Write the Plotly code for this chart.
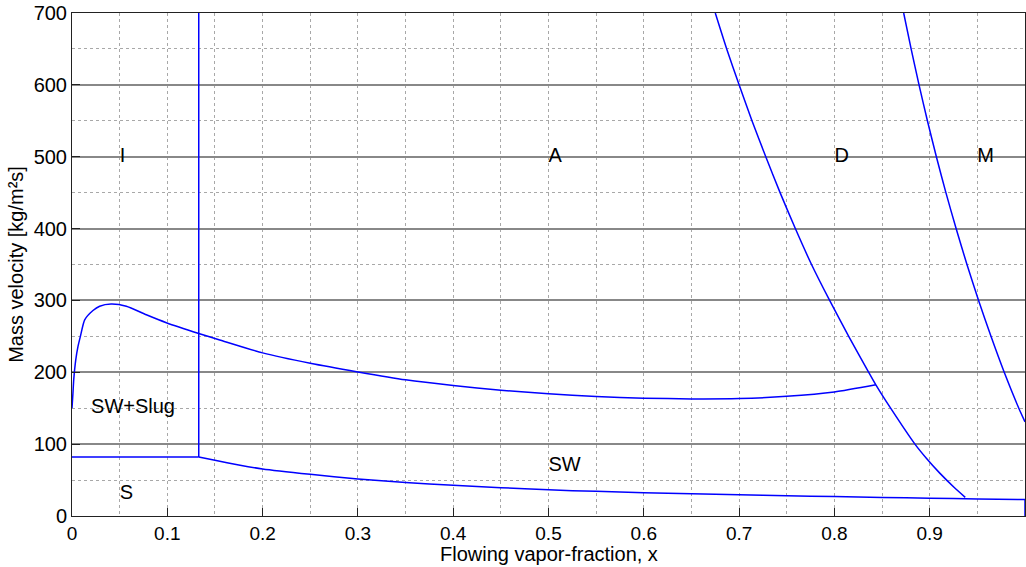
import plotly.graph_objects as go

# ---- data ----
# vertical boundary I / A
vert_x = [0.133, 0.133]
vert_y = [82, 700]

# stratified / stratified-wavy boundary (horizontal part, curve, end drop)
s_flat_x = [0.0, 0.133]
s_flat_y = [82, 82]
s_curve_x = [0.133, 0.15, 0.175, 0.2, 0.25, 0.3, 0.35, 0.4, 0.45, 0.5, 0.55, 0.6,
             0.65, 0.7, 0.75, 0.8, 0.85, 0.9, 0.95, 1.0]
s_curve_y = [82, 77.5, 71, 65.5, 58, 51.5, 46.6, 42.8, 39.4, 36.4, 34.3, 32.5,
             30.9, 29.5, 28.2, 27.0, 25.9, 24.8, 23.8, 22.8]
s_end_x = [1.0, 1.0]
s_end_y = [22.8, 0]

# wavy / slug+SW / annular boundary
w_x = [0.0, 0.001, 0.0018, 0.0039, 0.0063, 0.0088, 0.0133, 0.022, 0.029, 0.041,
       0.057, 0.078, 0.099, 0.133, 0.155, 0.2, 0.25, 0.3, 0.35, 0.4, 0.45, 0.5,
       0.55, 0.6, 0.65, 0.7, 0.75, 0.8, 0.8435]
w_y = [150, 171, 189.5, 217, 236, 250, 273, 286, 292, 295,
       292, 280, 269, 254, 245, 227, 212.5, 200.5, 189.5, 181.5, 175, 170,
       166.3, 164, 162.9, 163.4, 166.5, 172.5, 182.5]

# dryout boundary
d_x = [0.675, 0.687, 0.700, 0.7135, 0.728, 0.743, 0.759, 0.776, 0.795, 0.815,
       0.836, 0.8435, 0.859, 0.8845, 0.8967, 0.9103, 0.9255, 0.9373]
d_y = [700, 650, 600, 550, 500, 450, 400, 350, 300, 250,
       200, 182.5, 150, 100, 80, 60, 40, 26]

# mist boundary
m_x = [0.8727, 0.8805, 0.8888, 0.8976, 0.907, 0.917, 0.9277, 0.9391, 0.9513,
       0.9643, 0.9782, 0.9935, 1.0]
m_y = [700, 650, 600, 550, 500, 450, 400, 350, 300, 250, 200, 150, 131]

# region labels
label_text = ["I", "A", "D", "M", "SW+Slug", "S", "SW"]
label_x = [0.05, 0.5, 0.8, 0.95, 0.02, 0.05, 0.5]
label_y = [500, 500, 500, 500, 150, 30, 70]

x_ticks = [0, 0.1, 0.2, 0.3, 0.4, 0.5, 0.6, 0.7, 0.8, 0.9, 1]
x_tick_labels = ["0", "0.1", "0.2", "0.3", "0.4", "0.5", "0.6", "0.7", "0.8", "0.9", "1"]
y_ticks = [0, 100, 200, 300, 400, 500, 600, 700]

FONT = "Liberation Sans, Arial, Helvetica, sans-serif"
BLUE = "#0000ff"

fig = go.Figure()
for xs, ys, shape in [
    (vert_x, vert_y, "linear"),
    (s_flat_x, s_flat_y, "linear"),
    (s_curve_x, s_curve_y, "spline"),
    (s_end_x, s_end_y, "linear"),
    (w_x, w_y, "spline"),
    (d_x, d_y, "spline"),
    (m_x, m_y, "spline"),
]:
    fig.add_trace(go.Scatter(x=xs, y=ys, mode="lines",
                             line=dict(color=BLUE, width=1.5, shape=shape, smoothing=0.6),
                             showlegend=False, hoverinfo="skip"))

fig.add_trace(go.Scatter(x=label_x, y=label_y, mode="text", text=label_text,
                         textposition="middle right",
                         textfont=dict(family=FONT, size=20, color="black"),
                         showlegend=False, hoverinfo="skip"))

fig.update_layout(
    width=1026, height=567,
    margin=dict(l=72, r=1, t=13, b=51),
    paper_bgcolor="white", plot_bgcolor="white",
    font=dict(family=FONT, size=20, color="black"),
    annotations=[dict(text="Flowing vapor-fraction, x", xref="paper", yref="paper",
                      x=0.5, y=-0.0755, xanchor="center", yanchor="middle",
                      showarrow=False, font=dict(family=FONT, size=20, color="black"))],
)
fig.update_xaxes(
    range=[0, 1], tickvals=x_ticks, ticktext=x_tick_labels, automargin=False,
    ticks="inside", ticklen=8, tickcolor="#222", tickwidth=1,
    showline=True, linecolor="#222", linewidth=1, mirror=True,
    showgrid=True, gridcolor="#a8a8a8", griddash="dot", gridwidth=1,
    minor=dict(dtick=0.05, tick0=0, showgrid=True, gridcolor="#a8a8a8",
               griddash="dot", gridwidth=1),
    zeroline=False,
    tickfont=dict(size=19),
)
fig.update_yaxes(
    range=[0, 700], tickvals=y_ticks, automargin=False,
    ticks="inside", ticklen=8, tickcolor="#222", tickwidth=1,
    showline=True, linecolor="#222", linewidth=1, mirror=True,
    showgrid=True, gridcolor="#888888", gridwidth=1.5,
    minor=dict(dtick=50, tick0=0, showgrid=True, gridcolor="#a8a8a8",
               griddash="dot", gridwidth=1),
    zeroline=False,
    title=dict(text="Mass velocity [kg/m²s]", font=dict(size=20), standoff=4),
    tickfont=dict(size=20),
)

fig.write_html("out.html", config={"displayModeBar": False},
               post_script="document.body.style.margin='0';document.body.style.overflow='hidden';")
